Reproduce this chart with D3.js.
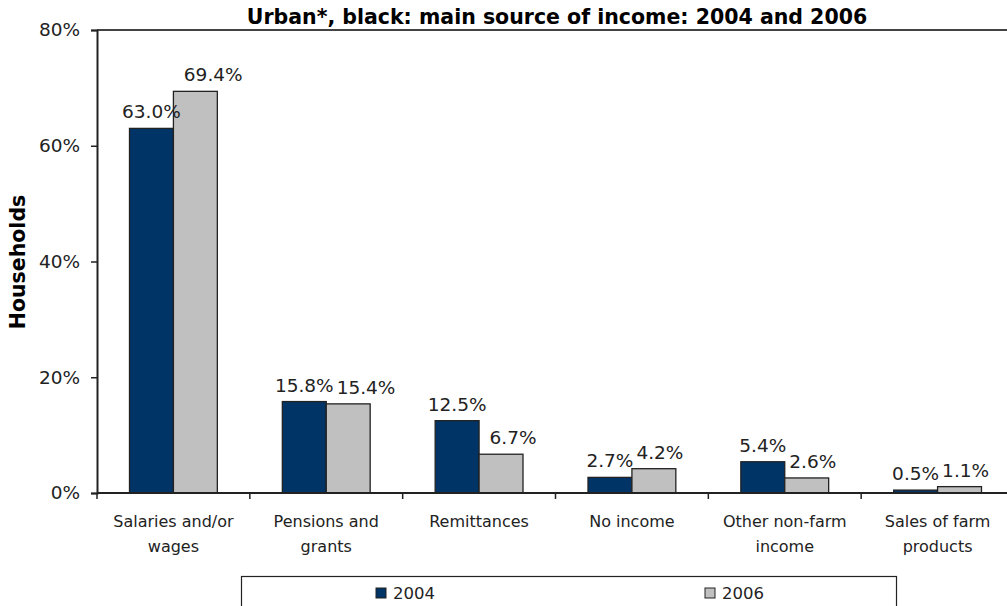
<!DOCTYPE html>
<html>
<head>
<meta charset="utf-8">
<script src="https://cdn.jsdelivr.net/npm/d3@7/dist/d3.min.js"></script>
<style>
  body { margin: 0; background: #fff; }
  svg { display: block; font-family: "DejaVu Sans", sans-serif; }
</style>
</head>
<body>
<svg id="chart" width="1007" height="606"></svg>
<script>
// Main source of income, urban black households
const categories = [
  ["Salaries and/or", "wages"],
  ["Pensions and", "grants"],
  ["Remittances"],
  ["No income"],
  ["Other non-farm", "income"],
  ["Sales of farm", "products"]
];
const seriesNames = ["2004", "2006"];
const values2004 = [63.0, 15.8, 12.5, 2.7, 5.4, 0.5];
const values2006 = [69.4, 15.4, 6.7, 4.2, 2.6, 1.1];
const yTicks = [0, 20, 40, 60, 80];
const colors = ["#003366", "#C0C0C0"];

const svg = d3.select("#chart");
const plotLeft = 97, plotTop = 30, plotBottom = 493, plotRight = 1014;

const x = d3.scaleBand().domain(d3.range(categories.length)).range([plotLeft, plotRight]);
const xs = d3.scaleBand().domain(seriesNames).range([0, x.bandwidth()]).paddingOuter(0.74).paddingInner(0);
const y = d3.scaleLinear().domain([0, 80]).range([plotBottom, plotTop]);

// plot frame top line
svg.append("line").attr("x1", plotLeft).attr("x2", 1007).attr("y1", plotTop).attr("y2", plotTop)
  .attr("stroke", "#444").attr("stroke-width", 2);

// title
svg.append("text").attr("x", 557).attr("y", 24).attr("text-anchor", "middle")
  .attr("font-weight", "bold").attr("font-size", 20.5).attr("fill", "#000")
  .text("Urban*, black: main source of income: 2004 and 2006");

// y axis
const yAxis = svg.append("g").attr("transform", `translate(${plotLeft},0)`)
  .call(d3.axisLeft(y).tickValues(yTicks).tickFormat(d => d + "%").tickSize(6).tickPadding(11));
yAxis.select(".domain").attr("stroke", "#222").attr("stroke-width", 2);
yAxis.selectAll(".tick line").attr("stroke", "#222").attr("stroke-width", 1.5);
yAxis.selectAll(".tick text").attr("font-size", 18.5).attr("fill", "#222")
  .attr("font-family", "DejaVu Sans, sans-serif");

// y label
svg.append("text").attr("transform", "translate(25,262) rotate(-90)")
  .attr("text-anchor", "middle").attr("font-weight", "bold").attr("font-size", 20.5)
  .attr("fill", "#000").text("Households");

// bars
const series = [values2004, values2006];
const groups = svg.append("g").selectAll("g").data(categories).join("g")
  .attr("transform", (d, i) => `translate(${x(i)},0)`);

seriesNames.forEach((s, si) => {
  groups.append("rect")
    .attr("x", xs(s)).attr("width", xs.bandwidth())
    .attr("y", (d, i) => y(series[si][i]))
    .attr("height", (d, i) => y(0) - y(series[si][i]))
    .attr("fill", colors[si]).attr("stroke", "#222").attr("stroke-width", 1.3);
});

// value labels: first series centred on its bar, second nudged right and kept clear of the first
const labelLayer = svg.append("g");
categories.forEach((c, i) => {
  const t0 = labelLayer.append("text")
    .attr("x", x(i) + xs(seriesNames[0]) + xs.bandwidth() / 2)
    .attr("y", y(values2004[i]) - 10)
    .attr("text-anchor", "middle").attr("font-size", 18.5).attr("fill", "#222")
    .text(values2004[i].toFixed(1) + "%");
  const w0 = t0.node().getComputedTextLength();
  const end0 = x(i) + xs(seriesNames[0]) + xs.bandwidth() / 2 + w0 / 2;
  const t1 = labelLayer.append("text")
    .attr("y", y(values2006[i]) - 10)
    .attr("text-anchor", "middle").attr("font-size", 18.5).attr("fill", "#222")
    .text(values2006[i].toFixed(1) + "%");
  const w1 = t1.node().getComputedTextLength();
  const cx = Math.max(x(i) + xs(seriesNames[1]) + xs.bandwidth() / 2 + 6, end0 + 3 + w1 / 2);
  t1.attr("x", cx);
});

// x axis
const xAxis = svg.append("g").attr("transform", `translate(0,${plotBottom})`);
xAxis.append("line").attr("x1", plotLeft).attr("x2", 1007).attr("stroke", "#222").attr("stroke-width", 2);
xAxis.selectAll("line.tick").data(d3.range(categories.length + 1)).join("line")
  .attr("class", "tick")
  .attr("x1", i => plotLeft + i * x.step()).attr("x2", i => plotLeft + i * x.step())
  .attr("y1", 0).attr("y2", 6).attr("stroke", "#222").attr("stroke-width", 1.5);
groups.append("text")
  .attr("x", x.bandwidth() / 2).attr("y", plotBottom + 34)
  .attr("text-anchor", "middle").attr("font-size", 16).attr("fill", "#222")
  .selectAll("tspan").data(d => d).join("tspan")
  .attr("x", x.bandwidth() / 2).attr("dy", (d, i) => i === 0 ? 0 : 25)
  .text(d => d);

// legend
const legend = svg.append("g");
legend.append("rect").attr("x", 241.5).attr("y", 576.5).attr("width", 655).attr("height", 40)
  .attr("fill", "#fff").attr("stroke", "#222").attr("stroke-width", 1.2);
const legendX = [376, 705];
seriesNames.forEach((s, si) => {
  legend.append("rect").attr("x", legendX[si]).attr("y", 588).attr("width", 10).attr("height", 10)
    .attr("fill", colors[si]).attr("stroke", "#222").attr("stroke-width", 1);
  legend.append("text").attr("x", legendX[si] + 17).attr("y", 599)
    .attr("font-size", 16.5).attr("fill", "#222").text(s);
});
</script>
</body>
</html>
